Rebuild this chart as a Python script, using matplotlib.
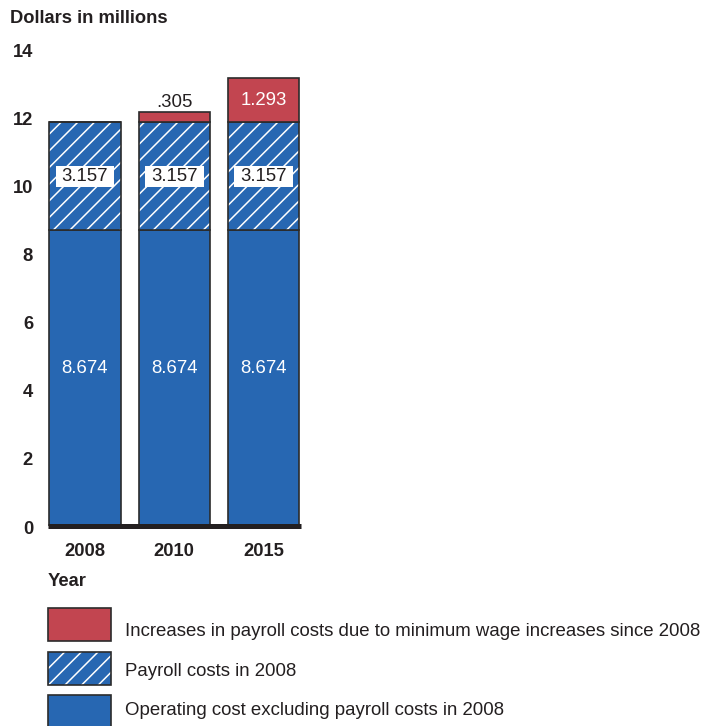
import matplotlib
matplotlib.use("Agg")
import matplotlib.pyplot as plt
from matplotlib.patches import Rectangle
import numpy as np

plt.rcParams['font.family'] = ['Liberation Sans', 'DejaVu Sans']
plt.rcParams['hatch.linewidth'] = 1.1

# Data (dollars in millions)
years = ["2008", "2010", "2015"]
operating_ex_payroll = [8.674, 8.674, 8.674]
payroll_2008 = [3.157, 3.157, 3.157]
min_wage_increase = [0.0, 0.305, 1.293]
increase_labels = ["", ".305", "1.293"]
y_ticks = [0, 2, 4, 6, 8, 10, 12, 14]

legend_labels = [
    "Increases in payroll costs due to minimum wage increases since 2008",
    "Payroll costs in 2008",
    "Operating cost excluding payroll costs in 2008",
]

BLUE = "#2767b2"
RED = "#c24550"
DARK = "#231f20"
EDGE = "#2b2b2b"
FS = 13.4
FSB = 13.2

W, H = 703, 726
fig = plt.figure(figsize=(W / 100, H / 100), dpi=100)

# main axes, placed in pixel terms
left_px, right_px, bottom_px, top_px = 48.3, 300.7, 525.5, 48.4
ax = fig.add_axes([left_px / W, (H - bottom_px) / H,
                   (right_px - left_px) / W, (bottom_px - top_px) / H])

x = np.arange(len(years))
bw = 0.8
base = np.array(operating_ex_payroll)
mid = base + np.array(payroll_2008)
top = mid + np.array(min_wage_increase)

ax.bar(x, operating_ex_payroll, width=bw, color=BLUE, edgecolor=EDGE, linewidth=1.2)
# hatched segment: white hatch lines, then a dark outline on top
ax.bar(x, payroll_2008, bottom=base, width=bw, color=BLUE, edgecolor="white",
       hatch="//", linewidth=0)
ax.bar(x, payroll_2008, bottom=base, width=bw, fill=False, edgecolor=EDGE, linewidth=1.2)
ax.bar(x, min_wage_increase, bottom=mid, width=bw, color=RED, edgecolor=EDGE, linewidth=1.2)

# thick baseline
ax.axhline(0, color=DARK, linewidth=3.6, zorder=5, clip_on=False,
           solid_capstyle="butt")

# value labels
box_w, box_h = 0.66, 0.62
for i in range(len(years)):
    ax.text(x[i], operating_ex_payroll[i] * 0.53, f"{operating_ex_payroll[i]:.3f}",
            ha="center", va="center", color="white", fontsize=FS)
    ym = base[i] + payroll_2008[i] / 2
    ax.add_patch(Rectangle((x[i] - box_w / 2, ym - box_h / 2), box_w, box_h,
                           facecolor="white", edgecolor="none", zorder=6))
    ax.text(x[i], ym, f"{payroll_2008[i]:.3f}", ha="center", va="center",
            color=DARK, fontsize=FS, zorder=7)
    if min_wage_increase[i] > 0:
        if min_wage_increase[i] < 0.6:
            ax.annotate(increase_labels[i], (x[i], top[i]), xytext=(0, 0.5),
                        textcoords="offset points", ha="center", va="bottom",
                        color=DARK, fontsize=FS)
        else:
            ax.text(x[i], mid[i] + min_wage_increase[i] / 2, increase_labels[i],
                    ha="center", va="center", color="white", fontsize=FS)

ax.set_xlim(-(85 - left_px) / 89.3, (right_px - 85) / 89.3)
ax.set_ylim(0, 14)

# y tick labels, set slightly below each gridline value
ax.set_yticks(y_ticks)
ax.set_yticklabels([])
ytrans = ax.get_yaxis_transform()
for t in y_ticks:
    ax.annotate(str(t), (0, t), xycoords=ytrans, xytext=(-11, -2.6),
                textcoords="offset points", ha="right", va="center",
                fontweight="bold", fontsize=FSB, color=DARK, annotation_clip=False)

ax.set_xticks(x)
ax.set_xticklabels(years, fontweight="bold", fontsize=FSB, color=DARK)
ax.tick_params(axis="both", length=0)
ax.tick_params(axis="x", pad=12.5)
for s in ax.spines.values():
    s.set_visible(False)

# overlay in pixel coordinates for titles and legend
ov = fig.add_axes([0, 0, 1, 1])
ov.set_xlim(0, W)
ov.set_ylim(H, 0)
ov.axis("off")
ov.text(10, 23, "Dollars in millions", fontweight="bold", fontsize=FSB,
        color=DARK, ha="left", va="baseline")
ov.text(48, 586, "Year", fontweight="bold", fontsize=FSB, color=DARK,
        ha="left", va="baseline")

leg_tops = [608, 652, 695]
leg_base = [636, 676, 715]
styles = [dict(facecolor=RED), dict(facecolor=BLUE, hatch="//"), dict(facecolor=BLUE)]
for t, b, lab, st in zip(leg_tops, leg_base, legend_labels, styles):
    if "hatch" in st:
        ov.add_patch(Rectangle((48, t), 63, 33, facecolor=BLUE, edgecolor="white",
                               hatch="//", linewidth=0))
        ov.add_patch(Rectangle((48, t), 63, 33, fill=False, edgecolor=EDGE, linewidth=1.2))
    else:
        ov.add_patch(Rectangle((48, t), 63, 33, edgecolor=EDGE, linewidth=1.2, **st))
    ov.text(125, b, lab, fontsize=FS, color=DARK, ha="left", va="baseline")

fig.savefig("out.png", dpi=100)
